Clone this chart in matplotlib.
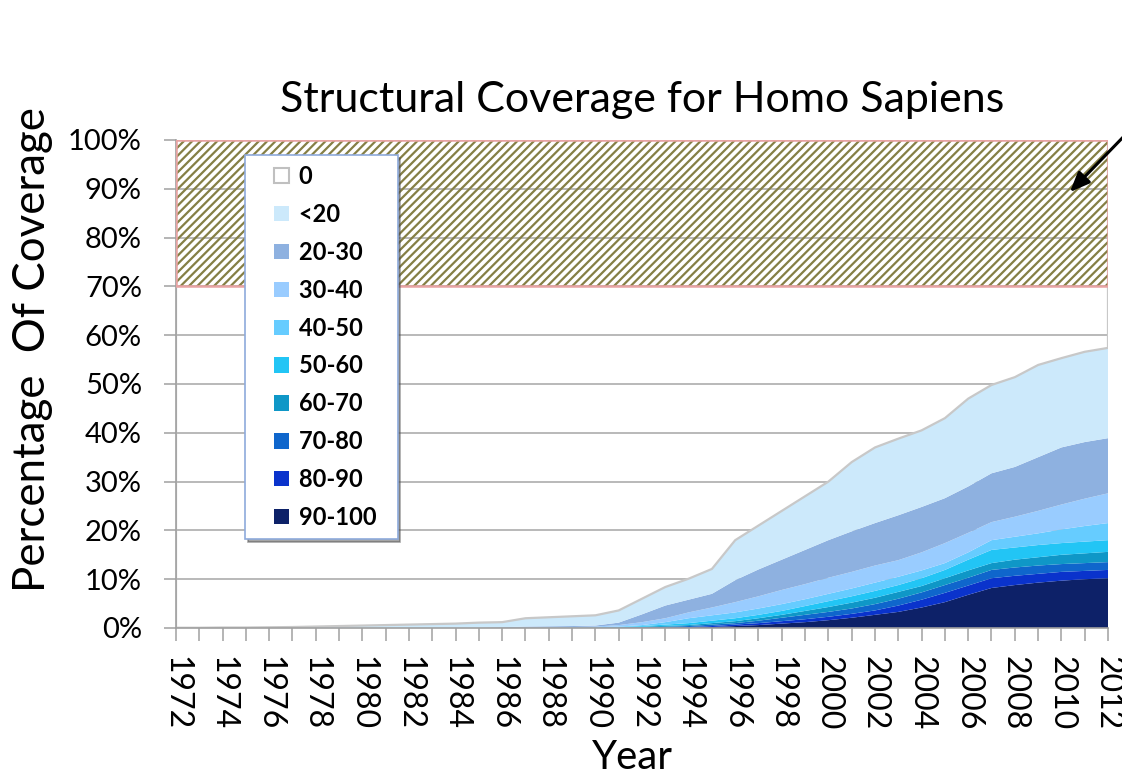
import matplotlib
matplotlib.use("Agg")
import matplotlib.pyplot as plt
from matplotlib.patches import Patch, Rectangle
from matplotlib.legend_handler import HandlerPatch
from matplotlib.ticker import MultipleLocator, FuncFormatter

plt.rcParams['font.family'] = ['Lato', 'DejaVu Sans']
plt.rcParams['hatch.linewidth'] = 1.6

years = list(range(1972, 2013))

# layer thicknesses (% of proteome), bottom of stack first
v90_100 = [0]*18 + [0.01, 0.02, 0.03, 0.05, 0.1, 0.2, 0.4, 0.6, 0.9, 1.2, 1.6, 2.1, 2.7, 3.3, 4.2, 5.3, 6.8, 8.2, 8.8, 9.3, 9.7, 10.0, 10.2]
v80_90 = [0]*18 + [0.01, 0.03, 0.05, 0.07, 0.1, 0.2, 0.3, 0.4, 0.5, 0.6, 0.7, 0.8, 0.9, 1.3, 1.6, 1.9, 1.9, 2.0, 1.9, 1.8, 1.8, 1.7, 1.7]
v70_80 = [0]*18 + [0.02, 0.03, 0.07, 0.13, 0.2, 0.3, 0.3, 0.5, 0.7, 0.9, 1.0, 1.1, 1.3, 1.4, 1.5, 1.6, 1.6, 1.7, 1.7, 1.7, 1.6, 1.6, 1.6]
v60_70 = [0]*17 + [0.02, 0.02, 0.04, 0.1, 0.2, 0.2, 0.3, 0.4, 0.5, 0.6, 0.8, 1.0, 1.2, 1.3, 1.4, 1.3, 1.4, 1.5, 1.4, 1.6, 1.7, 1.9, 2.0, 2.1]
v50_60 = [0]*16 + [0.02, 0.02, 0.04, 0.08, 0.15, 0.25, 0.4, 0.5, 0.6, 0.7, 0.8, 1.0, 1.2, 1.3, 1.4, 1.4, 1.6, 1.7, 2.2, 2.7, 2.5, 2.5, 2.4, 2.4, 2.4]
v40_50 = [0]*15 + [0.02, 0.03, 0.03, 0.05, 0.1, 0.2, 0.5, 1.0, 1.1, 1.2, 1.3, 1.4, 1.4, 1.5, 1.6, 1.7, 1.7, 1.6, 1.4, 1.5, 2.0, 2.2, 2.4, 2.8, 3.2, 3.5]
v30_40 = [0]*14 + [0.05, 0.08, 0.1, 0.13, 0.15, 0.3, 0.6, 0.8, 1.2, 1.6, 2.1, 2.5, 2.9, 3.1, 3.3, 3.4, 3.5, 3.4, 3.7, 4.1, 4.0, 3.7, 4.1, 4.6, 5.1, 5.6, 6.1]
v20_30 = [0]*14 + [0.10, 0.2, 0.2, 0.2, 0.2, 0.5, 1.6, 2.6, 2.6, 2.8, 4.5, 5.5, 6.2, 7.0, 7.7, 8.3, 8.7, 9.2, 9.3, 9.2, 9.5, 10.0, 10.2, 11.0, 11.7, 11.6, 11.3]
v_lt20 = [0.05, 0.05, 0.1, 0.1, 0.15, 0.2, 0.3, 0.4, 0.5, 0.6, 0.7, 0.8, 0.9, 1.1,
          1.05, 1.7, 1.85, 2.0, 2.1, 2.5, 3.2, 3.8, 4.3, 5.1, 8.2, 9.0, 10.0, 11.0, 12.0,
          14.2, 15.5, 15.7, 15.7, 16.4, 18.0, 18.1, 18.4, 18.9, 18.3, 18.5, 18.5]
v_0 = [99.95, 99.95, 99.9, 99.9, 99.85, 99.8, 99.7, 99.6, 99.5, 99.4, 99.3, 99.2, 99.1, 98.9,
       98.8, 98.0, 97.8, 97.6, 97.4, 96.4, 94.0, 91.6, 89.9, 87.9, 82.0, 79.0, 76.0, 73.0, 70.0,
       66.0, 63.0, 61.2, 59.5, 57.0, 53.0, 50.2, 48.6, 46.1, 44.7, 43.4, 42.6]

series = [v90_100, v80_90, v70_80, v60_70, v50_60, v40_50, v30_40, v20_30, v_lt20]
labels = ['90-100', '80-90', '70-80', '60-70', '50-60', '40-50', '30-40', '20-30', '<20']
colors = ['#0d2168', '#0a33cc', '#0f66cc', '#0f97c7', '#22c5f5', '#66ccff', '#99ccff', '#8eb1e0', '#cce9fb']

target_lo, target_hi = 70, 100

fig = plt.figure(figsize=(11.22, 7.78), dpi=100)
ax = fig.add_axes([176/1122, 1-628/778, 932/1122, 488/778])

polys = ax.stackplot(years, *series, v_0, colors=colors + ['none'], linewidth=0)
polys[-1].set_facecolor('none')
polys[-1].set_edgecolor('#c8c8c8')
polys[-1].set_linewidth(1.6)

# target band
ax.add_patch(Rectangle((years[0], target_lo), years[-1]-years[0], target_hi-target_lo,
                       facecolor='none', edgecolor='#857f45', hatch='////', linewidth=0, zorder=2))
ax.add_patch(Rectangle((years[0], target_lo), years[-1]-years[0], target_hi-target_lo,
                       facecolor='none', edgecolor='#e8a3a3', linewidth=1.8, zorder=3))

ax.set_xlim(years[0], years[-1])
ax.set_ylim(0, 100)
ax.yaxis.set_major_locator(MultipleLocator(10))
ax.yaxis.set_major_formatter(FuncFormatter(lambda v, p: f"{int(v)}%"))
ax.xaxis.set_major_locator(MultipleLocator(2))
ax.xaxis.set_minor_locator(MultipleLocator(1))
ax.xaxis.set_major_formatter(FuncFormatter(lambda v, p: f"{int(v)}"))

ax.grid(axis='y', color='#a6a6a6', linewidth=1.1)
ax.set_axisbelow(True)
for s in ['top', 'right']:
    ax.spines[s].set_visible(False)
for s in ['left', 'bottom']:
    ax.spines[s].set_color('#a0a0a0')
    ax.spines[s].set_linewidth(1.2)

ax.tick_params(axis='y', direction='out', length=8.5, width=1.1, color='#a0a0a0', pad=16, labelsize=21)
ax.tick_params(axis='x', which='both', direction='out', length=9, width=1.1, color='#a0a0a0')
ax.tick_params(axis='x', which='major', pad=11, labelsize=23, labelrotation=-90)

ax.set_title('Structural Coverage for Homo Sapiens', fontsize=31, pad=20)
ax.set_ylabel('Percentage  Of Coverage', fontsize=31.5)
ax.yaxis.set_label_coords(-0.132, 0.57)
ax.set_xlabel('Year', fontsize=29, va='bottom')
ax.xaxis.set_label_coords(0.49, (628 - 776) / 488)


def square_right(legend, orig_handle, xdescent, ydescent, width, height, fontsize):
    s = height * 1.0
    return Rectangle((width - s - xdescent, -ydescent + (height - s) / 2), s, s)


# legend (top entry first)
handles = [Patch(facecolor='white', edgecolor='#c0c0c0', linewidth=1.5)]
leg_labels = ['0']
for lab, col in zip(labels[::-1], colors[::-1]):
    handles.append(Patch(facecolor=col, edgecolor='none'))
    leg_labels.append(lab)
leg = ax.legend(handles, [l + '  ' for l in leg_labels], loc='upper left', bbox_to_anchor=(0.074, 0.969),
                prop={'family': ['Lato', 'DejaVu Sans'], 'weight': 'bold', 'size': 17},
                handlelength=1.45, handleheight=0.62, handletextpad=0.4,
                labelspacing=0.63, borderpad=0.42, borderaxespad=0,
                handler_map={Patch: HandlerPatch(patch_func=square_right)},
                fancybox=False, framealpha=1, edgecolor='#8eaadb', shadow=True)
leg.get_frame().set_linewidth(1.2)
leg.set_zorder(5)

ax.annotate('', xy=(1068/1122, 1-194/778), xycoords='figure fraction',
            xytext=(1130/1122, 1-130/778), textcoords='figure fraction',
            arrowprops=dict(arrowstyle='-|>,head_length=1.2,head_width=0.5', color='black', lw=2.2))

fig.savefig('out.png', dpi=100)
